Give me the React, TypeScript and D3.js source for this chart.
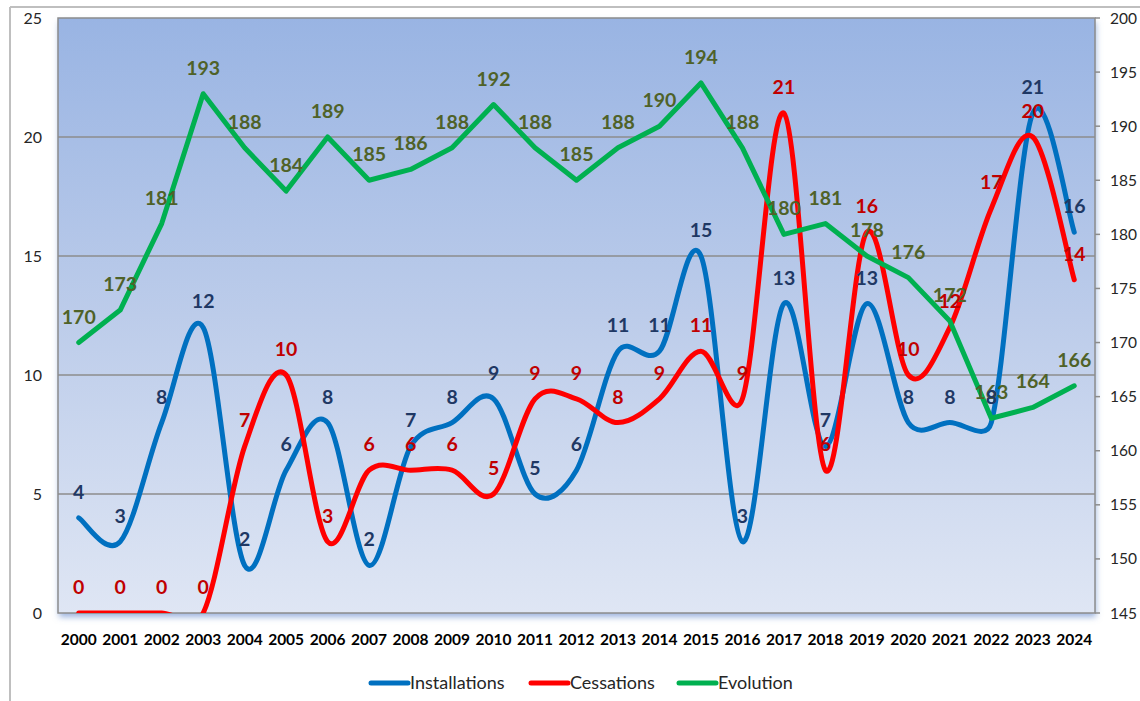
import React from "react";
import * as d3 from "d3";

const years = ["2000","2001","2002","2003","2004","2005","2006","2007","2008","2009","2010","2011","2012","2013","2014","2015","2016","2017","2018","2019","2020","2021","2022","2023","2024"];
const installations = [4,3,8,12,2,6,8,2,7,8,9,5,6,11,11,15,3,13,7,13,8,8,8,21,16];
const cessations = [0,0,0,0,7,10,3,6,6,6,5,9,9,8,9,11,9,21,6,16,10,12,17,20,14];
const evolution = [170,173,181,193,188,184,189,185,186,188,192,188,185,188,190,194,188,180,181,178,176,172,163,164,166];
const leftTicks = [0,5,10,15,20,25];
const rightTicks = [145,150,155,160,165,170,175,180,185,190,195,200];

const W = 1140, H = 701;
const PL = 58, PR = 1095, PT = 18, PB = 613;
const FONT = "Lato, 'Open Sans', sans-serif";

// Excel-like smoothed line: Bezier with 1/6 tangent factor, control arm capped at half segment length
function excelSmooth(pts: [number, number][]): string {
  const dist = (a: [number, number], b: [number, number]) => Math.hypot(a[0] - b[0], a[1] - b[1]);
  const path = d3.path();
  path.moveTo(pts[0][0], pts[0][1]);
  for (let i = 0; i < pts.length - 1; i++) {
    const p0 = pts[Math.max(0, i - 1)];
    const p1 = pts[i];
    const p2 = pts[i + 1];
    const p3 = pts[Math.min(pts.length - 1, i + 2)];
    const d12 = dist(p1, p2);
    const d02 = dist(p0, p2);
    const d13 = dist(p1, p3);
    let f1 = 1 / 6, f2 = 1 / 6;
    if (d02 / 6 >= d12 / 2 && d02 > 0) f1 = d12 / 2 / d02;
    if (d13 / 6 >= d12 / 2 && d13 > 0) f2 = d12 / 2 / d13;
    const c1x = p1[0] + f1 * (p2[0] - p0[0]);
    const c1y = p1[1] + f1 * (p2[1] - p0[1]);
    const c2x = p2[0] - f2 * (p3[0] - p1[0]);
    const c2y = p2[1] - f2 * (p3[1] - p1[1]);
    path.bezierCurveTo(c1x, c1y, c2x, c2y, p2[0], p2[1]);
  }
  return path.toString();
}

export default function App() {
  const x = d3.scaleBand().domain(years).range([PL, PR]);
  const cx = (y: string) => (x(y) as number) + x.bandwidth() / 2;
  const yL = d3.scaleLinear().domain([0, 25]).range([PB, PT]);
  const yR = d3.scaleLinear().domain([145, 200]).range([PB, PT]);

  const smooth = (vals: number[]) => excelSmooth(vals.map((v, i) => [cx(years[i]), yL(v)] as [number, number]));
  const straight = d3.line<number>().x((_, i) => cx(years[i])).y(d => yR(d));

  const series = [
    { name: "Installations", color: "#0070C0" },
    { name: "Cessations", color: "#FF0000" },
    { name: "Evolution", color: "#00B050" },
  ];
  const legendX = [371, 531, 679];

  return (
    <svg width={W} height={H} style={{ position: "absolute", left: 0, top: 0, background: "#fff" }} fontFamily={FONT}>
      <defs>
        <linearGradient id="bg" x1="0" y1="0" x2="0" y2="1">
          <stop offset="0%" stopColor="#99B4E3" />
          <stop offset="50%" stopColor="#BCCCEA" />
          <stop offset="100%" stopColor="#DFE6F4" />
        </linearGradient>
        <clipPath id="plotclip">
          <rect x={PL} y={PT} width={PR - PL} height={PB - PT} />
        </clipPath>
        <filter id="shadow" x="-5%" y="-5%" width="110%" height="115%">
          <feDropShadow dx="1" dy="4" stdDeviation="3" floodColor="#6F93CF" floodOpacity="0.7" />
        </filter>
      </defs>
      {/* outer chart frame */}
      <line x1={10} y1={7} x2={W} y2={7} stroke="#BFBFBF" strokeWidth={2} />
      <line x1={10} y1={7} x2={10} y2={H} stroke="#BFBFBF" strokeWidth={2} />

      {/* plot area */}
      <rect x={PL} y={PT} width={PR - PL} height={PB - PT} fill="url(#bg)" filter="url(#shadow)" />
      {leftTicks.filter(t => t > 0 && t < 25).map(t => (
        <line key={t} x1={PL} x2={PR} y1={yL(t)} y2={yL(t)} stroke="#8C8C8C" strokeWidth={1.5} />
      ))}
      <rect x={PL} y={PT} width={PR - PL} height={PB - PT} fill="none" stroke="#8C8C8C" strokeWidth={1.5} />

      {/* left axis labels */}
      {leftTicks.map(t => (
        <text key={t} x={42} y={yL(t)} dy="0.36em" textAnchor="end" fontSize={16} fill="#262626">{t}</text>
      ))}
      {/* right axis */}
      {rightTicks.map(t => (
        <g key={t}>
          <line x1={PR} x2={PR + 5} y1={yR(t)} y2={yR(t)} stroke="#8C8C8C" strokeWidth={1.5} />
          <text x={1110} y={yR(t)} dy="0.36em" textAnchor="start" fontSize={15.5} fill="#262626">{t}</text>
        </g>
      ))}
      {/* x axis labels */}
      {years.map(yr => (
        <text key={yr} x={cx(yr)} y={645} textAnchor="middle" fontSize={15.5} fontWeight={700} fill="#000">{yr}</text>
      ))}

      {/* lines */}
      <g clipPath="url(#plotclip)">
        <path d={smooth(installations)} fill="none" stroke="#0070C0" strokeWidth={5} strokeLinejoin="round" strokeLinecap="round" />
        <path d={smooth(cessations)} fill="none" stroke="#FF0000" strokeWidth={5} strokeLinejoin="round" strokeLinecap="round" />
        <path d={straight(evolution) || ""} fill="none" stroke="#00B050" strokeWidth={5} strokeLinejoin="round" strokeLinecap="round" />
      </g>

      {/* data labels */}
      {evolution.map((v, i) => (
        <text key={"e" + i} x={cx(years[i])} y={yR(v) - 19} textAnchor="middle" fontSize={19.5} fontWeight={700} fill="#4F6228">{v}</text>
      ))}
      {cessations.map((v, i) => (
        <text key={"c" + i} x={cx(years[i])} y={yL(v) - 19} textAnchor="middle" fontSize={19.5} fontWeight={700} fill="#C00000">{v}</text>
      ))}
      {installations.map((v, i) => (
        <text key={"i" + i} x={cx(years[i])} y={yL(v) - 19} textAnchor="middle" fontSize={19.5} fontWeight={700} fill="#1F3864">{v}</text>
      ))}

      {/* legend */}
      {series.map((s, i) => (
        <g key={s.name}>
          <line x1={legendX[i]} x2={legendX[i] + 37} y1={683} y2={683} stroke={s.color} strokeWidth={5} strokeLinecap="round" />
          <text x={legendX[i] + 39} y={683} dy="0.36em" fontSize={18} fill="#262626">{s.name}</text>
        </g>
      ))}
    </svg>
  );
}
